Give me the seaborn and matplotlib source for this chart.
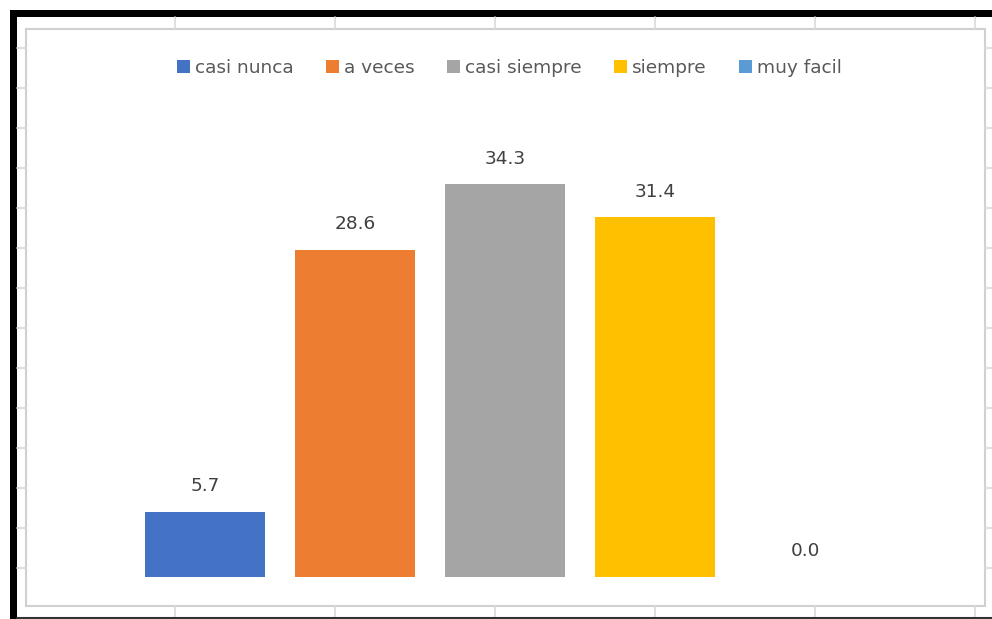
import matplotlib
matplotlib.use("Agg")
import matplotlib.pyplot as plt
import seaborn as sns
import pandas as pd
from matplotlib.patches import Rectangle, Patch
from matplotlib.lines import Line2D

categories = ["casi nunca", "a veces", "casi siempre", "siempre", "muy facil"]
values = [5.7, 28.6, 34.3, 31.4, 0.0]
colors = ["#4472C4", "#ED7D31", "#A5A5A5", "#FFC000", "#5B9BD5"]

sns.set_theme(style="white")
plt.rcParams["font.family"] = ["DejaVu Sans"]

W, H = 992, 619
fig = plt.figure(figsize=(W / 100, H / 100), dpi=100)
fig.patch.set_facecolor("white")

# background layer in pixel coordinates (spreadsheet look)
bg = fig.add_axes([0, 0, 1, 1], zorder=0)
bg.set_xlim(0, W)
bg.set_ylim(H, 0)
bg.axis("off")
grid_c = "#d9d9d9"
for x in [175, 335, 495, 655, 815, 975]:
    bg.add_line(Line2D([x, x], [17, 29], color=grid_c, lw=1.2))
    bg.add_line(Line2D([x, x], [606, 617], color=grid_c, lw=1.2))
for y in range(48, 600, 40):
    bg.add_line(Line2D([17, 26], [y, y], color=grid_c, lw=1.2))
    bg.add_line(Line2D([985, W], [y, y], color=grid_c, lw=1.2))
bg.add_patch(Rectangle((26, 29), 959, 577, facecolor="white", edgecolor="#d0d0d0", lw=1.5))
bg.add_patch(Rectangle((10, 10), W - 10, 7, facecolor="black", edgecolor="none"))
bg.add_patch(Rectangle((10, 10), 7, H - 10, facecolor="black", edgecolor="none"))
bg.add_line(Line2D([17, W], [617.5, 617.5], color="#333333", lw=1.5))

# main chart
left, right = 130, 880
base, top = 577, 119
ax = fig.add_axes([left / W, (H - base) / H, (right - left) / W, (base - top) / H], zorder=2)
ax.patch.set_alpha(0)
df = pd.DataFrame({"cat": categories, "val": values})
sns.barplot(data=df, x="cat", y="val", hue="cat", palette=colors,
            hue_order=categories, order=categories, width=0.8, dodge=False,
            legend=False, ax=ax, saturation=1, linewidth=0)
ax.set_xlim(-0.5, 4.5)
ax.set_ylim(0, 40)
ax.axis("off")
for c in ax.containers:
    ax.bar_label(c, fmt="%.1f", padding=12, fontsize=13.3, color="#404040")

handles = [Patch(facecolor=c, edgecolor="none") for c in colors]
fig.legend(handles, categories, loc="center", bbox_to_anchor=(509.5 / W, 1 - 68 / H),
           ncol=5, frameon=False, fontsize=13.3, handlelength=0.7, handleheight=0.7,
           handletextpad=0.27, columnspacing=1.75, labelcolor="#595959")

fig.savefig("out.png", dpi=100)
